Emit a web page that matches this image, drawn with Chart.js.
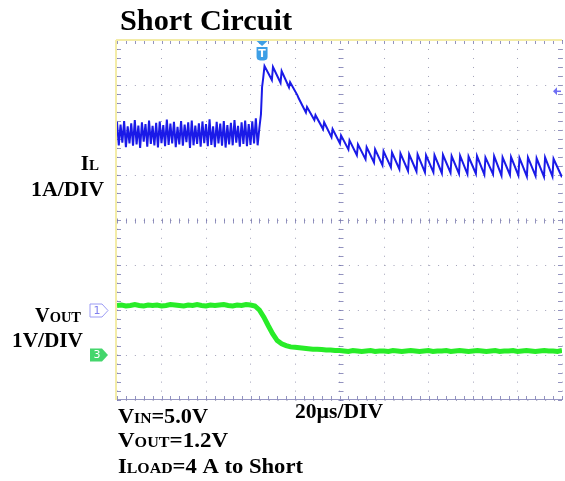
<!DOCTYPE html>
<html>
<head>
<meta charset="utf-8">
<script src="https://cdn.jsdelivr.net/npm/chart.js@4"></script>
<style>
  html, body { margin: 0; padding: 0; background: #ffffff; }
  canvas { display: block; }
</style>
</head>
<body>
<canvas id="scope" width="565" height="481"></canvas>
<script>
// Sweep: 20 µs per division, 10 divisions
const sweepUs = [0, 200];
const usPerDiv = 20;
// Vertical ranges (8 divisions each): IL at 1 A/div, VOUT at 1 V/div
const currentRangeA = [-2, 6];
const voltageRangeV = [-1, 7];

// Inductor current before the short, one sample every 0.8 µs from 0 µs
const ilRecordStep = 0.8;
const ilRecord = [
  4.18, 3.66, 4.12, 3.72, 4.20, 3.62, 4.08, 3.70, 4.15, 3.65,
  4.22, 3.68, 4.10, 3.60, 4.17, 3.74, 4.13, 3.63, 4.21, 3.69,
  4.09, 3.66, 4.16, 3.61, 4.19, 3.71, 4.11, 3.64, 4.23, 3.67,
  4.14, 3.70, 4.18, 3.62, 4.07, 3.68, 4.20, 3.65, 4.12, 3.73,
  4.17, 3.60, 4.21, 3.66, 4.10, 3.69, 4.15, 3.63, 4.19, 3.71,
  4.13, 3.64, 4.24, 3.67, 4.08, 3.62, 4.18, 3.70, 4.14, 3.65,
  4.20, 3.61, 4.11, 3.68, 4.16, 3.66, 4.22, 3.72, 4.09, 3.63,
  4.17, 3.69, 4.21, 3.64, 4.13, 3.67, 4.19, 3.70, 4.26, 3.66
];

// Current jump when the output is shorted
const ilEdgeTimes = [64.0, 64.7, 65.2, 65.7];
const ilEdgeAmps  = [4.05, 4.35, 4.95, 5.15];

// Current-limit cycles after the short: fast rise to a peak, slow ramp down to a valley
const ilPeakTimes = [
  66.3, 70.1, 74.0, 77.8, 81.6, 85.4, 89.2, 93.1, 96.9, 100.7,
  104.5, 108.3, 112.2, 116.0, 119.8, 123.6, 127.4, 131.3, 135.1, 138.9,
  142.7, 146.5, 150.4, 154.2, 158.0, 161.8, 165.6, 169.5, 173.3, 177.1,
  180.9, 184.7, 188.6, 192.4, 196.2
];
const ilPeakAmps = [
  5.42, 5.40, 5.31, 5.06, 4.71, 4.51, 4.33, 4.17, 4.02, 3.88,
  3.77, 3.68, 3.62, 3.57, 3.53, 3.50, 3.48, 3.46, 3.46, 3.44,
  3.44, 3.45, 3.42, 3.43, 3.41, 3.42, 3.39, 3.42, 3.39, 3.40,
  3.38, 3.39, 3.37, 3.39, 3.36
];
const ilValleyAmps = [
  5.11, 5.05, 4.95, 4.77, 4.39, 4.22, 4.02, 3.84, 3.70, 3.57,
  3.44, 3.35, 3.28, 3.22, 3.17, 3.13, 3.09, 3.08, 3.06, 3.06,
  3.04, 3.05, 3.03, 3.02, 3.03, 3.01, 3.02, 2.99, 3.00, 2.99,
  2.97, 2.98, 2.96, 2.97, 2.95
];
const ilRiseUs = 0.5;

// Output voltage, one sample every 2 µs from 0 µs
const voutRecordStep = 2;
const voutRecord = [
  1.10, 1.11, 1.09, 1.10, 1.12, 1.10, 1.09, 1.11, 1.10, 1.11,
  1.09, 1.10, 1.12, 1.11, 1.10, 1.09, 1.11, 1.10, 1.12, 1.10,
  1.09, 1.11, 1.10, 1.11, 1.12, 1.10, 1.09, 1.11, 1.10, 1.12,
  1.11, 1.09,
  1.00, 0.84, 0.65, 0.47, 0.32, 0.25, 0.21, 0.18, 0.17, 0.16,
  0.15, 0.14, 0.13, 0.13, 0.12, 0.11, 0.11, 0.10, 0.10,
  0.09, 0.08, 0.10, 0.09, 0.08, 0.09, 0.10, 0.08, 0.09, 0.09,
  0.08, 0.10, 0.09, 0.08, 0.09, 0.10, 0.09, 0.08, 0.09, 0.10,
  0.08, 0.09, 0.09, 0.10, 0.08, 0.09, 0.10, 0.09, 0.08, 0.09,
  0.10, 0.09, 0.08, 0.09, 0.10, 0.08, 0.09, 0.09, 0.10, 0.08,
  0.09, 0.10, 0.09, 0.08, 0.09, 0.10, 0.09, 0.09, 0.08, 0.10
];

// Trigger position and level (on the IL channel)
const triggerTimeUs = 65.2;
const triggerLevelA = 4.86;

// ---- build the traces ----
const ilPoints = [];
ilRecord.forEach((a, i) => ilPoints.push({ x: i * ilRecordStep, y: a }));
ilEdgeTimes.forEach((t, i) => ilPoints.push({ x: t, y: ilEdgeAmps[i] }));
ilPeakTimes.forEach((t, i) => {
  ilPoints.push({ x: t, y: ilPeakAmps[i] });
  const valleyAt = i + 1 < ilPeakTimes.length ? ilPeakTimes[i + 1] - ilRiseUs : sweepUs[1];
  ilPoints.push({ x: valleyAt, y: ilValleyAmps[i] });
});
const voutPoints = voutRecord.map((v, i) => ({ x: i * voutRecordStep, y: v }));

const SERIF = '"Liberation Serif", "Times New Roman", serif';
const GRID = 'rgba(130,130,160,0.75)';

// Minor ticks, frame edges
const graticule = {
  id: 'graticule',
  beforeDatasetsDraw(chart) {
    const { ctx, chartArea: a, scales: { x, yI } } = chart;
    const xc = Math.round(x.getPixelForValue((sweepUs[0] + sweepUs[1]) / 2)) + 0.5;
    const yc = Math.round(yI.getPixelForValue((currentRangeA[0] + currentRangeA[1]) / 2)) + 0.5;
    ctx.save();
    ctx.strokeStyle = 'rgba(120,120,175,0.8)';
    ctx.lineWidth = 1;
    ctx.beginPath();
    for (let t = sweepUs[0]; t <= sweepUs[1] + 1e-9; t += usPerDiv / 5) {
      const px = Math.round(x.getPixelForValue(t)) + 0.5;
      ctx.moveTo(px, a.top); ctx.lineTo(px, a.top + 4);
      ctx.moveTo(px, a.bottom); ctx.lineTo(px, a.bottom - 4);
      ctx.moveTo(px, yc - 2); ctx.lineTo(px, yc + 3);
    }
    for (let v = currentRangeA[0]; v <= currentRangeA[1] + 1e-9; v += 0.2) {
      const py = Math.round(yI.getPixelForValue(v)) + 0.5;
      ctx.moveTo(a.left, py); ctx.lineTo(a.left + 4, py);
      ctx.moveTo(a.right, py); ctx.lineTo(a.right - 4, py);
      ctx.moveTo(xc - 2, py); ctx.lineTo(xc + 3, py);
    }
    ctx.stroke();
    // bottom edge
    ctx.strokeStyle = 'rgba(140,140,190,0.9)';
    ctx.beginPath();
    ctx.moveTo(a.left, Math.round(a.bottom) - 0.5); ctx.lineTo(a.right, Math.round(a.bottom) - 0.5);
    ctx.stroke();
    // top and left edges are pale yellow
    ctx.strokeStyle = '#f3eca8';
    ctx.lineWidth = 2;
    ctx.beginPath();
    ctx.moveTo(a.left - 1, a.top); ctx.lineTo(a.right, a.top);
    ctx.moveTo(a.left - 1, a.top); ctx.lineTo(a.left - 1, a.bottom);
    ctx.stroke();
    ctx.restore();
  }
};

// Trigger flag, trigger level arrow and channel ground markers
const markers = {
  id: 'markers',
  afterDatasetsDraw(chart) {
    const { ctx, chartArea: a, scales: { x, yI, yV } } = chart;
    ctx.save();
    // trigger position
    const tx = x.getPixelForValue(triggerTimeUs);
    ctx.fillStyle = '#3e9fe6';
    ctx.beginPath();
    ctx.moveTo(tx - 5.5, a.top + 1); ctx.lineTo(tx + 5.5, a.top + 1); ctx.lineTo(tx, a.top + 6);
    ctx.closePath(); ctx.fill();
    ctx.beginPath();
    ctx.moveTo(tx - 5.5, a.top + 7);
    ctx.lineTo(tx + 5.5, a.top + 7);
    ctx.lineTo(tx + 5.5, a.top + 17);
    ctx.quadraticCurveTo(tx + 5.5, a.top + 20, tx + 2, a.top + 20.5);
    ctx.lineTo(tx - 2, a.top + 20.5);
    ctx.quadraticCurveTo(tx - 5.5, a.top + 20, tx - 5.5, a.top + 17);
    ctx.closePath(); ctx.fill();
    ctx.fillStyle = '#ffffff';
    ctx.font = 'bold 11px "DejaVu Sans", sans-serif';
    ctx.textAlign = 'center'; ctx.textBaseline = 'middle';
    ctx.fillText('T', tx, a.top + 14);

    // trigger level
    const ly = yI.getPixelForValue(triggerLevelA);
    ctx.fillStyle = ctx.strokeStyle = '#6e6ef4';
    ctx.beginPath();
    ctx.moveTo(a.right - 9, ly); ctx.lineTo(a.right - 5, ly - 4); ctx.lineTo(a.right - 5, ly + 4);
    ctx.closePath(); ctx.fill();
    ctx.lineWidth = 1.5;
    ctx.beginPath(); ctx.moveTo(a.right - 6, ly); ctx.lineTo(a.right - 1, ly); ctx.stroke();

    // channel ground markers
    const tag = (cy, label, fill, stroke, textColor) => {
      const l = 90, r = 102, tip = 108, h = 6.5;
      ctx.beginPath();
      ctx.moveTo(l, cy - h); ctx.lineTo(r, cy - h); ctx.lineTo(tip, cy);
      ctx.lineTo(r, cy + h); ctx.lineTo(l, cy + h); ctx.closePath();
      ctx.fillStyle = fill; ctx.fill();
      if (stroke) { ctx.strokeStyle = stroke; ctx.lineWidth = 1; ctx.stroke(); }
      ctx.fillStyle = textColor;
      ctx.font = '11px "DejaVu Sans", sans-serif';
      ctx.textAlign = 'center'; ctx.textBaseline = 'middle';
      ctx.fillText(label, 97, cy + 0.5);
    };
    tag(Math.round(yI.getPixelForValue(0)) + 0.5, '1', '#ffffff', '#9c9cf4', '#8080ee');
    tag(yV.getPixelForValue(0), '3', '#44d66c', null, '#ffffff');
    ctx.restore();
  }
};

// Bold serif text built from runs of different sizes (small caps subscripts);
// an optional width stretches the run horizontally to the oscilloscope label face.
function textRuns(ctx, parts, x, y, align, width) {
  let w = 0;
  parts.forEach(([t, s]) => { ctx.font = `bold ${s}px ${SERIF}`; w += ctx.measureText(t).width; });
  const sx = width ? width / w : 1;
  ctx.save();
  ctx.translate(align === 'right' ? x - w * sx : x, y);
  ctx.scale(sx, 1);
  let cx = 0;
  parts.forEach(([t, s]) => {
    ctx.font = `bold ${s}px ${SERIF}`;
    ctx.fillText(t, cx, 0);
    cx += ctx.measureText(t).width;
  });
  ctx.restore();
}
const annotations = {
  id: 'annotations',
  afterDraw(chart) {
    const ctx = chart.ctx;
    ctx.save();
    ctx.fillStyle = '#000000';
    ctx.textAlign = 'left';
    ctx.textBaseline = 'alphabetic';
    textRuns(ctx, [['Short Circuit', 30]], 120, 30, 'left', 172);
    textRuns(ctx, [['I', 21], ['L', 15]], 99, 170, 'right');
    textRuns(ctx, [['1A/DIV', 21]], 104, 196, 'right', 73);
    textRuns(ctx, [['V', 21], ['OUT', 15]], 81, 322, 'right', 46);
    textRuns(ctx, [['1V/DIV', 21]], 83, 347, 'right', 71);
    textRuns(ctx, [['V', 20], ['IN', 14], ['=5.0V', 20]], 118, 423, 'left', 90);
    textRuns(ctx, [['V', 20], ['OUT', 14], ['=1.2V', 20]], 118, 447, 'left', 110);
    textRuns(ctx, [['I', 20], ['LOAD', 14], ['=4 A to Short', 20]], 118, 473, 'left', 185);
    textRuns(ctx, [['20\u00b5s/DIV', 20]], 295, 418, 'left', 88);
    ctx.restore();
  }
};

new Chart(document.getElementById('scope'), {
  type: 'line',
  data: {
    datasets: [
      { label: 'IL', data: ilPoints, yAxisID: 'yI', borderColor: 'rgb(26,26,232)',
        borderWidth: 2, pointRadius: 0, tension: 0, fill: false },
      { label: 'VOUT', data: voutPoints, yAxisID: 'yV', borderColor: 'rgb(40,236,40)',
        borderWidth: 5, pointRadius: 0, tension: 0, fill: false }
    ]
  },
  options: {
    responsive: false,
    animation: false,
    devicePixelRatio: 1,
    events: [],
    layout: { padding: { left: 117, right: 3, top: 40, bottom: 81 } },
    plugins: { legend: { display: false }, tooltip: { enabled: false } },
    scales: {
      x: {
        type: 'linear', min: sweepUs[0], max: sweepUs[1],
        ticks: { display: false, stepSize: usPerDiv },
        grid: { color: GRID, lineWidth: 1, drawTicks: false },
        border: { display: false, dash: [1, 7.99] },
        afterFit(s) { s.height = 0; }
      },
      yI: {
        type: 'linear', position: 'left', min: currentRangeA[0], max: currentRangeA[1],
        ticks: { display: false, stepSize: 1 },
        grid: { color: GRID, lineWidth: 1, drawTicks: false },
        border: { display: false, dash: [1, 7.92] },
        afterFit(s) { s.width = 0; }
      },
      yV: {
        type: 'linear', position: 'right', min: voltageRangeV[0], max: voltageRangeV[1],
        display: false
      }
    }
  },
  plugins: [graticule, markers, annotations]
});
</script>
</body>
</html>
